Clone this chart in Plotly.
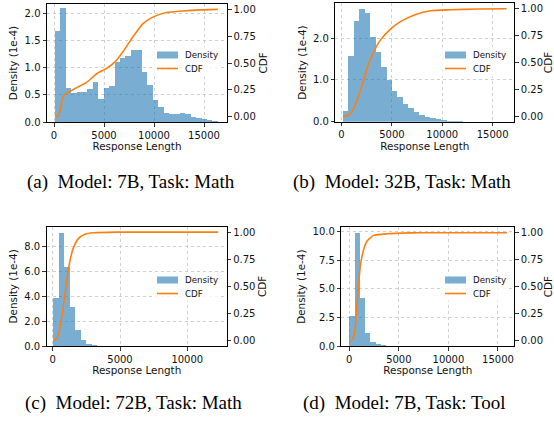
import plotly.graph_objects as go

# ---------------- data (density in units of 1e-4) ----------------
# (a) Model: 7B, Task: Math
a_bin_start = 80
a_bin_width = 543.5
a_density = [1.67, 2.10, 0.625, 0.53, 0.55, 0.55, 0.60, 0.73, 0.42, 0.62,
             0.67, 1.10, 1.17, 1.21, 1.32, 1.32, 0.92, 0.68, 0.41, 0.28,
             0.16, 0.14, 0.14, 0.16, 0.14, 0.10, 0.07, 0.05, 0.03, 0.02]
a_cdf_x = [80, 300, 450, 560, 670, 800, 930, 1100, 1400, 2270, 3270, 4270,
           5270, 6100, 6930, 7930, 8930, 9930, 11270, 12930, 14600, 16384]
a_cdf_y = [0.0, 0.002, 0.01, 0.04, 0.09, 0.15, 0.19, 0.21, 0.225, 0.27,
           0.32, 0.40, 0.45, 0.51, 0.61, 0.75, 0.87, 0.93, 0.97, 0.985,
           0.995, 1.0]

# (b) Model: 32B, Task: Math
b_bin_start = 130
b_bin_width = 541.8
b_density = [0.26, 1.58, 2.41, 2.70, 2.61, 2.03, 1.66, 1.30, 1.00, 0.74,
             0.58, 0.42, 0.33, 0.24, 0.17, 0.12, 0.09, 0.064, 0.048, 0.024,
             0.016, 0.008, 0.004, 0.002, 0.001, 0.0, 0.0, 0.0, 0.0, 0.001]
b_cdf_x = [130, 560, 1060, 1550, 2050, 2540, 3200, 3870, 4860, 5850, 7170,
           8820, 10800, 13450, 16384]
b_cdf_y = [0.0, 0.006, 0.046, 0.154, 0.29, 0.45, 0.60, 0.71, 0.81, 0.88,
           0.94, 0.98, 0.99, 0.997, 1.0]

# (c) Model: 72B, Task: Math
c_bin_start = 50
c_bin_width = 408.0
c_density = [3.84, 9.13, 6.36, 3.14, 1.29, 0.51, 0.16, 0.05, 0.02, 0.01,
             0.005, 0.003, 0.002, 0.001, 0.001, 0.0, 0.0, 0.0, 0.0, 0.0,
             0.0, 0.0, 0.0, 0.0, 0.0, 0.0, 0.0, 0.0, 0.0, 0.001]
c_cdf_x = [50, 300, 545, 790, 1040, 1290, 1535, 1905, 2400, 3020, 4750, 12288]
c_cdf_y = [0.0, 0.015, 0.12, 0.31, 0.55, 0.74, 0.855, 0.94, 0.98, 0.994,
           1.0, 1.0]

# (d) Model: 7B, Task: Tool
d_bin_start = 0
d_bin_width = 533.0
d_density = [2.62, 9.85, 4.20, 1.14, 0.35, 0.17, 0.06, 0.03, 0.02, 0.01,
             0.005, 0.003, 0.002, 0.001, 0.001, 0.0, 0.0, 0.0, 0.0, 0.0,
             0.0, 0.0, 0.0, 0.0, 0.0, 0.0, 0.0, 0.0, 0.0, 0.001]
d_cdf_x = [0, 250, 450, 600, 773, 940, 1100, 1280, 1500, 1780, 2450, 3800,
           6150, 8000, 15900]
d_cdf_y = [0.0, 0.005, 0.04, 0.12, 0.33, 0.52, 0.68, 0.78, 0.86, 0.92,
           0.975, 0.99, 0.998, 1.0, 1.0]

captions = ["(a)\u2002Model: 7B, Task: Math", "(b)\u2002Model: 32B, Task: Math",
            "(c)\u2002Model: 72B, Task: Math", "(d)\u2002Model: 7B, Task: Tool"]
legend_labels = ["Density", "CDF"]

x_ticks_a = [0, 5000, 10000, 15000]
x_ticks_c = [0, 5000, 10000]
y_ticks_a = [0.0, 0.5, 1.0, 1.5, 2.0]
y_ticks_b = [0.0, 1.0, 2.0]
y_ticks_c = [0.0, 2.0, 4.0, 6.0, 8.0]
y_ticks_d = [0.0, 2.5, 5.0, 7.5, 10.0]
cdf_ticks = [0.0, 0.25, 0.5, 0.75, 1.0]

# ---------------- layout helpers ----------------
W, H = 554, 423
BLUE = "rgba(31,119,180,0.6)"
ORANGE = "#ff7f0e"
FONT = "DejaVu Sans"
TXT = "#111111"


def px(x):
    return x / W


def py(y):
    return 1 - y / H


panels = [
    dict(box=(47, 4, 227, 122), xr=[-700, 17300], yr=[0, 2.17],
         xt=x_ticks_a, yt=y_ticks_a, start=a_bin_start, w=a_bin_width,
         dens=a_density, cx=a_cdf_x, cy=a_cdf_y, leg=(157, 55), cap=(131, 182),
         cdf_standoff=4),
    dict(box=(335.3, 3.3, 514.3, 121.7), xr=[-620, 17150], yr=[0, 2.83],
         xt=x_ticks_a, yt=y_ticks_b, start=b_bin_start, w=b_bin_width,
         dens=b_density, cx=b_cdf_x, cy=b_cdf_y, leg=(445, 55), cap=(402, 182),
         cdf_standoff=2),
    dict(box=(46.7, 226.7, 226.7, 346), xr=[-446, 12927], yr=[0, 9.61],
         xt=x_ticks_c, yt=y_ticks_c, start=c_bin_start, w=c_bin_width,
         dens=c_density, cx=c_cdf_x, cy=c_cdf_y, leg=(157, 280), cap=(133, 403),
         cdf_standoff=4),
    dict(box=(341.3, 227.3, 514.3, 346), xr=[-807, 16645], yr=[0, 10.38],
         xt=x_ticks_a, yt=y_ticks_d, start=d_bin_start, w=d_bin_width,
         dens=d_density, cx=d_cdf_x, cy=d_cdf_y, leg=(445, 280), cap=(404, 403),
         cdf_standoff=2),
]

fig = go.Figure()
layout = dict(
    width=W, height=H, margin=dict(l=0, r=0, t=0, b=0, autoexpand=False),
    paper_bgcolor="white", plot_bgcolor="white",
    bargap=0, showlegend=False,
    font=dict(family=FONT, size=10, color=TXT),
    annotations=[], shapes=[],
)

axis_common = dict(
    showline=True, linecolor="black", linewidth=1, automargin=False,
    ticks="outside", ticklen=3.5, tickwidth=0.8, tickcolor="black",
    zeroline=False, tickfont=dict(family=FONT, size=10, color=TXT),
)

for i, p in enumerate(panels):
    n = i + 1
    xa = "xaxis" if n == 1 else f"xaxis{n}"
    xref = "x" if n == 1 else f"x{n}"
    yl_n = 2 * i + 1
    yr_n = 2 * i + 2
    yl = "yaxis" if yl_n == 1 else f"yaxis{yl_n}"
    yl_ref = "y" if yl_n == 1 else f"y{yl_n}"
    yr = f"yaxis{yr_n}"
    yr_ref = f"y{yr_n}"

    l, t, r, b = p["box"]
    centers = [p["start"] + p["w"] * (k + 0.5) for k in range(len(p["dens"]))]

    fig.add_trace(go.Bar(
        x=centers, y=p["dens"], width=p["w"], name=legend_labels[0],
        marker=dict(color=BLUE, line=dict(width=0)),
        xaxis=xref, yaxis=yl_ref,
    ))
    fig.add_trace(go.Scatter(
        x=p["cx"], y=p["cy"], mode="lines", name=legend_labels[1],
        line=dict(color=ORANGE, width=1.6, shape="spline", smoothing=0.5),
        xaxis=xref, yaxis=yr_ref,
    ))

    layout[xa] = dict(
        axis_common, domain=[px(l), px(r)], range=p["xr"], anchor=yl_ref,
        tickvals=p["xt"], ticktext=[str(v) for v in p["xt"]], mirror=True,
        showgrid=True, gridcolor="#c4c4c4", gridwidth=0.8, griddash="dot",
        title=dict(text="Response Length", standoff=1,
                   font=dict(family=FONT, size=10.4, color=TXT)),
    )
    layout[yl] = dict(
        axis_common, domain=[py(b), py(t)], range=p["yr"], anchor=xref,
        tickvals=p["yt"], ticktext=[f"{v:.1f}" for v in p["yt"]],
        showgrid=True, gridcolor="#c4c4c4", gridwidth=0.8, griddash="dot",
        title=dict(text="Density (1e-4)", standoff=4,
                   font=dict(family=FONT, size=10.4, color=TXT)),
    )
    layout[yr] = dict(
        axis_common, overlaying=yl_ref, side="right", anchor=xref,
        range=[-0.05, 1.05], tickvals=cdf_ticks,
        ticktext=[f"{v:.2f}" for v in cdf_ticks], showgrid=False,
        title=dict(text="CDF", standoff=p["cdf_standoff"],
                   font=dict(family=FONT, size=10.4, color=TXT)),
    )

    # legend (matplotlib-style: translucent box, wide swatches)
    lx, ly = p["leg"]
    row2 = ly + 13.5
    layout["shapes"].append(dict(
        type="rect", xref="paper", yref="paper",
        x0=px(lx - 4), x1=px(lx + 64), y0=py(ly - 8), y1=py(row2 + 8),
        fillcolor="rgba(255,255,255,0.8)", line=dict(width=0), layer="above"))
    layout["shapes"].append(dict(
        type="rect", xref="paper", yref="paper",
        x0=px(lx), x1=px(lx + 21), y0=py(ly + 3.5), y1=py(ly - 3.5),
        fillcolor=BLUE, line=dict(width=0), layer="above"))
    layout["shapes"].append(dict(
        type="line", xref="paper", yref="paper",
        x0=px(lx), x1=px(lx + 21), y0=py(row2), y1=py(row2),
        line=dict(color=ORANGE, width=1.6), layer="above"))
    for lab, yy in zip(legend_labels, [ly, row2]):
        layout["annotations"].append(dict(
            text=lab, x=px(lx + 26), y=py(yy), xref="paper", yref="paper",
            xanchor="left", yanchor="middle", showarrow=False,
            font=dict(family=FONT, size=8.7, color=TXT)))

    layout["annotations"].append(dict(
        text=captions[i], x=px(p["cap"][0]), y=py(p["cap"][1]),
        xref="paper", yref="paper", xanchor="center", yanchor="middle",
        showarrow=False,
        font=dict(family="Liberation Serif", size=19, color="black"),
    ))

fig.update_layout(**layout)
fig.write_html(
    "out.html",
    config={"displayModeBar": False, "staticPlot": True},
    post_script="document.body.style.margin='0';"
                "document.body.style.overflow='hidden';",
)
